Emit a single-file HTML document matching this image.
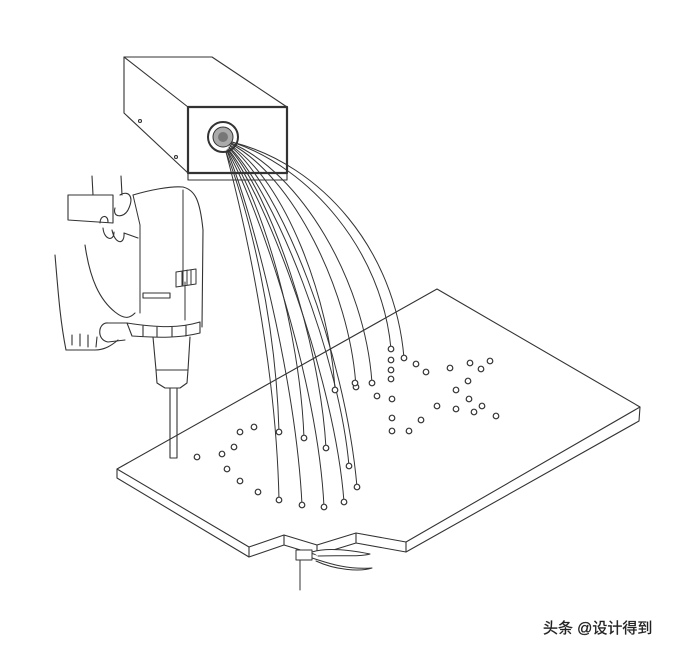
<!DOCTYPE html>
<html><head><meta charset="utf-8"><style>
html,body{margin:0;padding:0;background:#fff;width:684px;height:652px;overflow:hidden}
svg{position:absolute;left:0;top:0}
.wm{position:absolute;left:543px;top:617px;font:15px "Liberation Sans","Noto Sans CJK SC",sans-serif;color:#222;-webkit-text-stroke:0.3px #222}
</style></head><body>
<svg width="684" height="652" viewBox="0 0 684 652" fill="none" stroke="#333" stroke-width="1.1" stroke-linejoin="round" stroke-linecap="round">
<path d="M117 469 L437 289 L640 407 L406 542 L356 533 L317 545 L284 535 L249 547 Z" fill="#fff"/>
<path d="M117 469 L117 478 L249 557 L249 547 M249 557 L284 545 L284 535 M284 545 L317 555 L317 545 M317 555 L356 543 L356 533 M356 543 L406 552 L406 542 M406 552 L639 421 L640 407"/>
<!-- pliers -->
<path d="M300 556 L300 590" stroke-width="1"/>
<path d="M296 550 L312 550 L312 560 L296 560 Z M312 552 C325 548 345 549 370 554 C360 557 340 555 318 556 M312 558 C325 562 345 570 372 568 C360 572 335 570 316 561" stroke-width="1" fill="#fff"/>
<!-- camera box -->
<path d="M124 57 L212 57 L287 107 M124 57 L124 113 L188 173 M124 57 L188 107"/>
<rect x="188" y="107" width="99" height="66" stroke-width="2.2"/>
<path d="M188 173 L188 180 L287 180 L287 173"/>
<circle cx="140" cy="121" r="1.5"/><circle cx="176" cy="157" r="1.5"/>
<circle cx="223" cy="137" r="15" stroke-width="2"/>
<circle cx="223" cy="137" r="10" fill="#aaa" stroke-width="1"/>
<circle cx="223" cy="137" r="5" fill="#777" stroke="none"/>
<g stroke-width="1">
<path d="M232 142 C322 165 395 250 404 358"/>
<path d="M232 142 C310 168 382 250 391 349"/>
<path d="M231 143 C300 172 365 280 372 383"/>
<path d="M231 144 C292 176 350 290 356 387"/>
<path d="M230 145 C285 180 330 300 335 390"/>
<path d="M230 146 C280 185 345 350 357 487"/>
<path d="M229 147 C275 190 340 360 349 466"/>
<path d="M229 148 C270 192 320 340 326 448"/>
<path d="M228 149 C266 195 335 380 344 502"/>
<path d="M228 150 C262 200 300 330 304 438"/>
<path d="M227 150 C258 205 318 380 324 507"/>
<path d="M227 151 C252 210 296 380 302 505"/>
<path d="M226 152 C250 215 276 320 279 432"/>
<path d="M226 152 C244 220 276 360 279 500"/>
</g>
<g stroke-width="1.2" fill="#fff">
<circle cx="279" cy="500" r="2.8"/><circle cx="302" cy="505" r="2.8"/><circle cx="324" cy="507" r="2.8"/><circle cx="344" cy="502" r="2.8"/><circle cx="357" cy="487" r="2.8"/><circle cx="349" cy="466" r="2.8"/><circle cx="326" cy="448" r="2.8"/><circle cx="304" cy="438" r="2.8"/><circle cx="279" cy="432" r="2.8"/><circle cx="372" cy="383" r="2.8"/><circle cx="356" cy="387" r="2.8"/><circle cx="335" cy="390" r="2.8"/><circle cx="391" cy="349" r="2.8"/><circle cx="404" cy="358" r="2.8"/>
<circle cx="197" cy="457" r="2.8"/><circle cx="222" cy="454" r="2.8"/><circle cx="234" cy="447" r="2.8"/><circle cx="240" cy="432" r="2.8"/><circle cx="254" cy="427" r="2.8"/><circle cx="227" cy="469" r="2.8"/><circle cx="240" cy="481" r="2.8"/><circle cx="258" cy="492" r="2.8"/>
<circle cx="391" cy="360" r="2.8"/><circle cx="391" cy="370" r="2.8"/><circle cx="391" cy="379" r="2.8"/><circle cx="377" cy="396" r="2.8"/><circle cx="392" cy="399" r="2.8"/><circle cx="392" cy="418" r="2.8"/><circle cx="392" cy="431" r="2.8"/><circle cx="409" cy="431" r="2.8"/><circle cx="421" cy="420" r="2.8"/>
<circle cx="416" cy="364" r="2.8"/><circle cx="426" cy="372" r="2.8"/><circle cx="450" cy="368" r="2.8"/><circle cx="470" cy="363" r="2.8"/><circle cx="481" cy="369" r="2.8"/><circle cx="490" cy="361" r="2.8"/><circle cx="468" cy="381" r="2.8"/><circle cx="456" cy="390" r="2.8"/><circle cx="469" cy="399" r="2.8"/><circle cx="437" cy="406" r="2.8"/><circle cx="456" cy="409" r="2.8"/><circle cx="474" cy="412" r="2.8"/><circle cx="482" cy="406" r="2.8"/><circle cx="496" cy="416" r="2.8"/><circle cx="355" cy="383" r="2.8"/>
</g>
<!-- drill -->
<path d="M133 195 C150 190 170 186 183 187 C195 190 200 200 203 230 L202 327" fill="#fff"/>
<path d="M133 195 L140 225 L140 313 M183 190 L183 285 M185 282 L185 320" stroke-width="1"/>
<rect x="143" y="293" width="27" height="5"/>
<path d="M176 272 L196 269 L196 284 L176 287 Z M182 271 L182 286 M187 270 L187 285 M191 270 L191 284" stroke-width="1"/>
<path d="M127 323 C160 328 180 328 200 322 L200 333 C180 338 160 338 132 336 Z M143 326 L143 336 M157 327 L157 337 M172 327 L172 337 M186 326 L186 336" fill="#fff"/>
<path d="M153 337 L156 370 L157 383 L165 388 L180 388 L187 383 L188 370 L190 337 M156 370 L188 370"/>
<path d="M170 388 L170 458 L177 458 L177 388"/>
<!-- hand -->
<path d="M68 195 L113 195 L113 223 L68 220 Z"/>
<path d="M92 176 L93 195 M121 176 L122 195 M120 195 C128 190 135 196 128 210 C124 218 112 218 115 208"/>
<path d="M100 223 C100 215 108 214 108 222 M103 228 C104 240 114 242 114 232 M112 230 C115 245 125 245 124 233 M124 233 L138 238"/>
<path d="M55 255 C58 290 60 320 66 350 L95 350 C105 350 112 345 118 340"/>
<path d="M85 245 C90 280 100 300 115 312 C125 320 130 318 135 313"/>
<path d="M108 323 C98 322 96 340 108 342 L125 340 M108 323 L127 323"/>
<path d="M72 345 L72 335 M80 346 L80 334 M88 347 L88 335 M96 347 L97 337"/>
</svg>
<div class="wm">头条 @设计得到</div>
</body></html>
